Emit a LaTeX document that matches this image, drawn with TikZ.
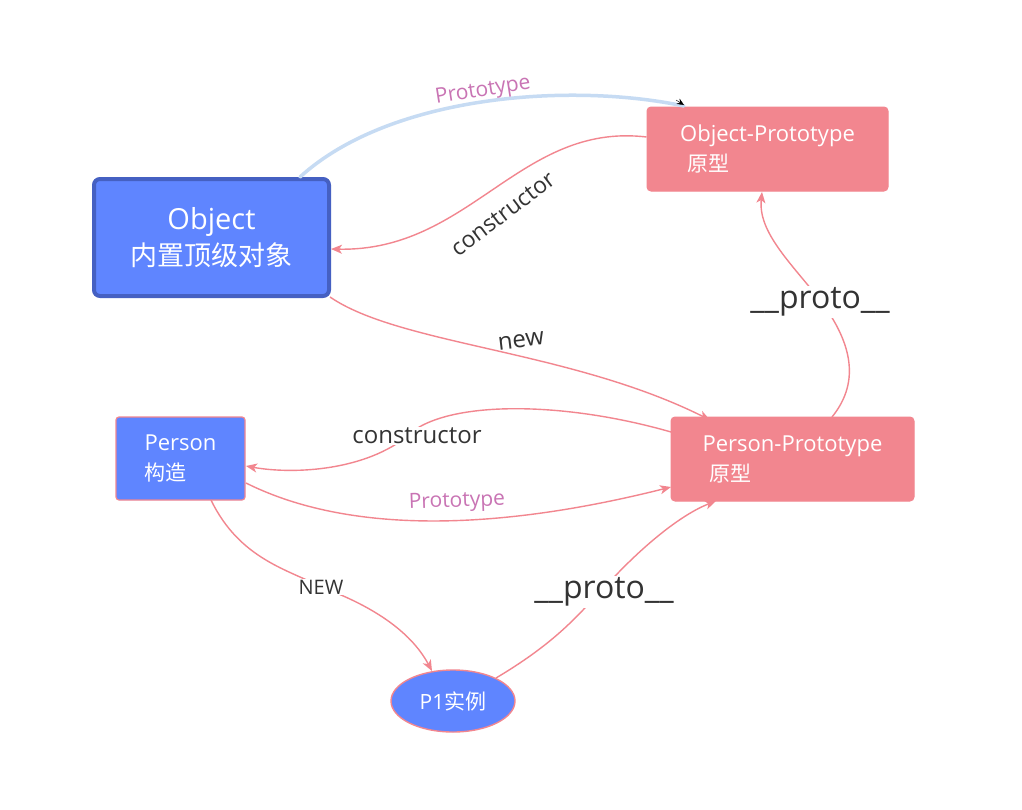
\documentclass[tikz,border=0pt]{standalone}
\usepackage{fontspec}
\setmainfont{Open Sans}
\newfontfamily\cjk{Noto Sans CJK SC}
\usetikzlibrary{arrows.meta,shapes.geometric}
\definecolor{bfill}{HTML}{5F85FF}
\definecolor{bborder}{HTML}{4560C2}
\definecolor{pinkc}{HTML}{F2868F}
\definecolor{lblue}{HTML}{C6DBF3}
\definecolor{protoc}{HTML}{C974B4}
\definecolor{darkt}{HTML}{333333}
\tikzset{
  fs/.style 2 args={font=\fontsize{#1}{#2}\selectfont},
  bluebox/.style={draw=pinkc, line width=1.2pt, fill=bfill, rounded corners=3pt, text=white, inner sep=0pt, align=left},
  pinkbox/.style={draw=pinkc, line width=1pt, fill=pinkc, rounded corners=4pt, text=white, inner sep=0pt, align=left},
  link/.style={draw=pinkc, line width=1.4pt, -{Stealth[length=11pt,width=9pt,inset=3pt]}},
  lbl/.style={text=darkt, inner sep=1pt},
}
\begin{document}
\begin{tikzpicture}[x=1pt,y=-1pt]
\useasboundingbox (0,0) rectangle (1022,809);
\fill[white] (0,0) rectangle (1022,809);
% nodes
\node[bluebox, draw=bborder, line width=4pt, rounded corners=6pt, minimum width=235pt, minimum height=117pt, align=center, fs={29}{36}] (obj) at (211.5,237.5) {Object\\{\cjk\fontsize{27}{36}\selectfont 内置顶级对象}};
\node[pinkbox, minimum width=241pt, minimum height=84pt, fs={22}{30}] (objp) at (767.5,149) {Object-Prototype\\\hspace{7pt}{\cjk\fontsize{21}{30}\selectfont 原型}};
\node[bluebox, minimum width=129pt, minimum height=83pt, fs={22}{30}] (per) at (180.5,458.5) {Person\\{\cjk\fontsize{21}{30}\selectfont 构造}};
\node[pinkbox, minimum width=243pt, minimum height=84pt, fs={22}{30}] (perp) at (792.5,459) {Person-Prototype\\\hspace{7pt}{\cjk\fontsize{21}{30}\selectfont 原型}};
\node[ellipse, draw=pinkc, line width=1.4pt, fill=bfill, text=white, minimum width=124pt, minimum height=62pt, inner sep=0pt, fs={21}{28}] (p1) at (453,701) {P1{\cjk 实例}};
% coordinates for edge ends
\coordinate (a1) at (300,177);
\coordinate (a2) at (684,106);
% Prototype (top, blue)
\draw[lblue, line width=3.5pt, line cap=round] (a1) .. controls (390,95) and (570,82) .. (a2);
\draw[black, -{Stealth[length=7pt,width=6pt]}] (676,100) -- (684,105);
\node[text=protoc, fs={21}{26}, rotate=9] (lp1) at (483,91) {Prototype};
% constructor (Object-Prototype -> Object)
\draw[link] (objp.west |- 0,137) .. controls (520,122) and (470,252) .. (obj.east |- 0,249);
\node[lbl, fs={23}{28}, rotate=37] (lc1) at (503,214) {constructor};
% new
\draw[link] (330,297) .. controls (400,345) and (570,350) .. (710,420);
\node[lbl, fs={24}{28}, rotate=7] (ln) at (521,341) {new};
% __proto__ (Person-Prototype -> Object-Prototype)
\draw[link] (832,417) .. controls (862,380) and (850,340) .. (820,300) .. controls (790,262) and (758,232) .. (762,192);
\node[lbl, fs={32}{36}, fill=white, inner sep=2pt] (lpr1) at (820,302) {\_\_proto\_\_};
% constructor (Person-Prototype -> Person)
\draw[link] (671,432) .. controls (560,400) and (440,400) .. (405,438) .. controls (360,472) and (290,474) .. (246,466);
\node[lbl, fs={24}{28}, fill=white] (lc2) at (417,436) {constructor};
% Prototype (Person -> Person-Prototype)
\draw[link] (246,483) .. controls (340,530) and (480,535) .. (671,487);
\node[text=protoc, fs={21}{26}, rotate=2] (lp2) at (457,502) {Prototype};
% NEW
\draw[link] (211,500) .. controls (240,560) and (290,570) .. (321,587) .. controls (370,605) and (410,630) .. (432,671);
\node[lbl, fs={20}{24}, fill=white] (lnew) at (321,587) {NEW};
% __proto__ (P1 -> Person-Prototype)
\draw[link] (496,678) .. controls (560,640) and (580,612) .. (604,588) .. controls (640,548) and (680,515) .. (716,501);
\node[lbl, fs={32}{36}, fill=white, inner sep=2pt] (lpr2) at (604,592) {\_\_proto\_\_};
\end{tikzpicture}
\end{document}
